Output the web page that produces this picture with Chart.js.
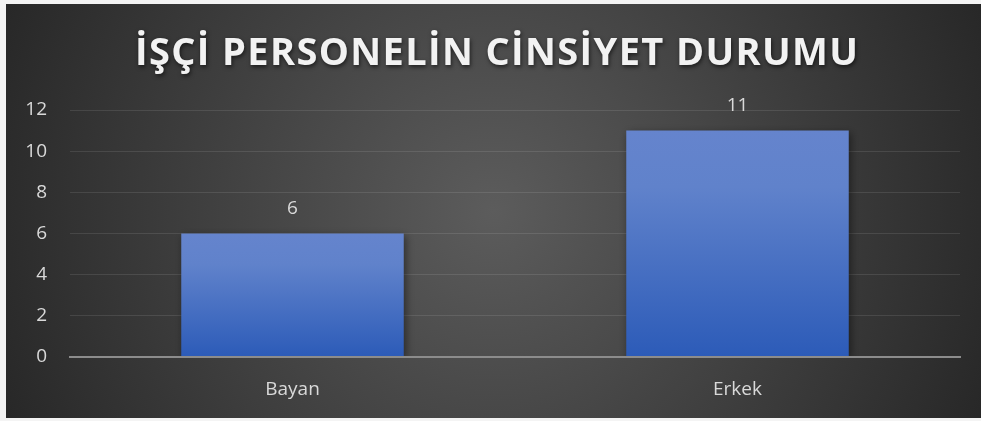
<!DOCTYPE html>
<html>
<head>
<meta charset="utf-8">
<script src="https://cdn.jsdelivr.net/npm/chart.js@4/dist/chart.umd.min.js"></script>
<style>
  html, body { margin: 0; padding: 0; background: #f4f4f4; width: 981px; height: 421px; overflow: hidden; }
  #wrap { position: absolute; left: 6px; top: 4px; width: 975px; height: 414px; }
</style>
</head>
<body>
<div id="wrap"><canvas id="c" width="975" height="414"></canvas></div>
<script>
const titleText = "İŞÇİ PERSONELİN CİNSİYET DURUMU";
const categories = ["Bayan", "Erkek"];
const values = [6, 11];
const yTicks = [0, 2, 4, 6, 8, 10, 12];

const bgPlugin = {
  id: 'bg',
  beforeDraw(chart) {
    const ctx = chart.ctx, w = chart.width, h = chart.height;
    ctx.save();
    const g = ctx.createRadialGradient(w * 0.5, h * 0.5, 0, w * 0.5, h * 0.5, w * 0.56);
    g.addColorStop(0, '#5c5c5c');
    g.addColorStop(1, '#262626');
    ctx.fillStyle = g;
    ctx.fillRect(0, 0, w, h);
    ctx.restore();
  }
};

const titlePlugin = {
  id: 'spacedTitle',
  afterDraw(chart) {
    const ctx = chart.ctx;
    ctx.save();
    ctx.font = 'bold 38px "Open Sans", sans-serif';
    ctx.letterSpacing = '0px';
    const target = 723;
    const n = [...titleText].length;
    const w0 = ctx.measureText(titleText).width;
    const sp = (target - w0) / (n - 1);
    ctx.letterSpacing = sp + 'px';
    ctx.textAlign = 'left';
    ctx.textBaseline = 'alphabetic';
    ctx.shadowColor = 'rgba(0,0,0,0.6)';
    ctx.shadowBlur = 4;
    ctx.shadowOffsetX = 1;
    ctx.shadowOffsetY = 2;
    ctx.fillStyle = '#f2f2f2';
    ctx.fillText(titleText, 129, 61);
    ctx.restore();
  }
};

const shadowPlugin = {
  id: 'barShadow',
  beforeDatasetDraw(chart) {
    const ctx = chart.ctx;
    ctx.save();
    ctx.shadowColor = 'rgba(0,0,0,0.45)';
    ctx.shadowBlur = 8;
    ctx.shadowOffsetX = 2;
    ctx.shadowOffsetY = 2;
  },
  afterDatasetDraw(chart) {
    chart.ctx.restore();
  }
};

const labelPlugin = {
  id: 'valueLabels',
  afterDatasetsDraw(chart) {
    const ctx = chart.ctx;
    const meta = chart.getDatasetMeta(0);
    ctx.save();
    ctx.font = '19px "Open Sans", sans-serif';
    ctx.fillStyle = '#d9d9d9';
    ctx.textAlign = 'center';
    ctx.textBaseline = 'middle';
    meta.data.forEach((bar, i) => {
      ctx.fillText(String(values[i]), bar.x, bar.y - 25);
    });
    ctx.restore();
  }
};

const ctx = document.getElementById('c').getContext('2d');
new Chart(ctx, {
  type: 'bar',
  data: {
    labels: categories,
    datasets: [{
      data: values,
      backgroundColor(context) {
        const chart = context.chart;
        const area = chart.chartArea;
        if (!area) return '#4a72c4';
        const y = chart.scales.y;
        const top = y.getPixelForValue(values[context.dataIndex]);
        const bottom = y.getPixelForValue(0);
        const g = chart.ctx.createLinearGradient(0, top, 0, bottom);
        g.addColorStop(0, '#6584cd');
        g.addColorStop(0.25, '#6082cb');
        g.addColorStop(1, '#2c5bb8');
        return g;
      },
      borderWidth: 0,
      categoryPercentage: 1,
      barPercentage: 0.5
    }]
  },
  options: {
    responsive: false,
    animation: false,
    devicePixelRatio: 1,
    layout: { padding: { top: 106, right: 21, bottom: 0, left: 0 } },
    plugins: {
      legend: { display: false },
      title: { display: false },
      tooltip: { enabled: false }
    },
    scales: {
      x: {
        afterFit(scale) { scale.height = 61; },
        grid: { display: false, drawTicks: false },
        border: { display: true, color: '#8c8c8c', width: 2, z: 1 },
        ticks: { color: '#d9d9d9', font: { family: '"Open Sans", sans-serif', size: 19 }, padding: 21 }
      },
      y: {
        min: 0, max: 12,
        afterBuildTicks(scale) { scale.ticks = yTicks.map(v => ({ value: v })); },
        afterFit(scale) { scale.width = 64; },
        grid: { color: 'rgba(255,255,255,0.1)', lineWidth: 1, drawTicks: false },
        border: { display: false },
        ticks: { color: '#d9d9d9', font: { family: '"Open Sans", sans-serif', size: 19 }, padding: 23 }
      }
    }
  },
  plugins: [bgPlugin, shadowPlugin, labelPlugin, titlePlugin]
});
</script>
</body>
</html>
